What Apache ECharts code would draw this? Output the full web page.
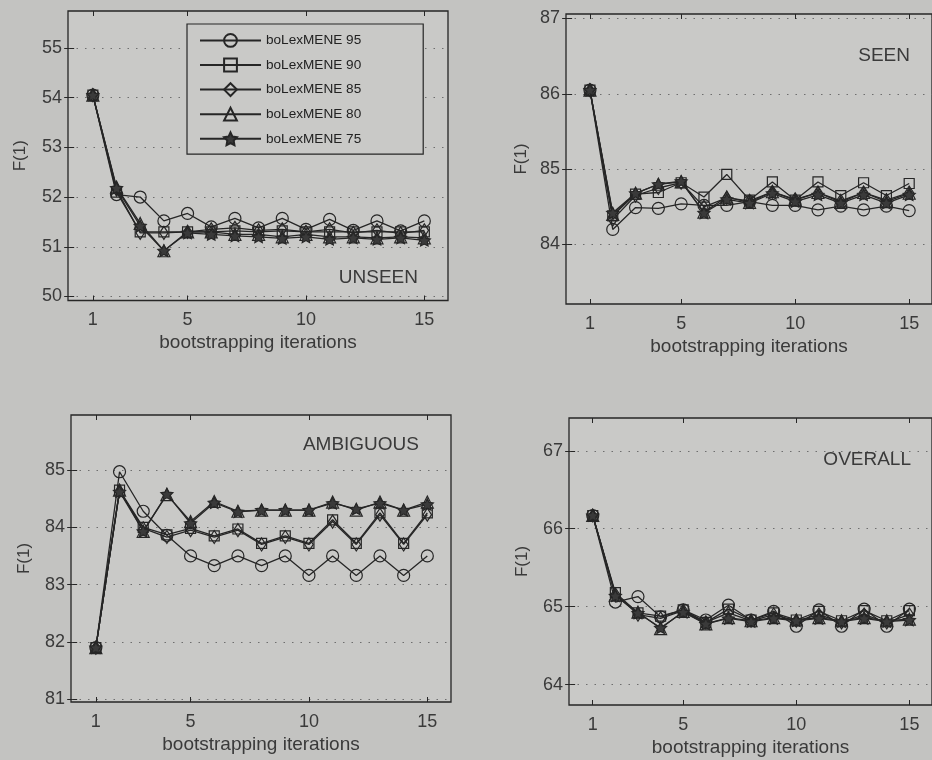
<!DOCTYPE html>
<html>
<head>
<meta charset="utf-8">
<script src="https://cdn.jsdelivr.net/npm/echarts@6/dist/echarts.min.js"></script>
<style>
  html, body { margin: 0; padding: 0; background: #c3c3c1; }
  #chart { width: 932px; height: 760px; }
</style>
</head>
<body>
<div id="chart"></div>
<script>
// Bootstrapping iterations on the x axis
const iterations = [1, 2, 3, 4, 5, 6, 7, 8, 9, 10, 11, 12, 13, 14, 15];
const xTicks = [1, 5, 10, 15];
const seriesNames = ['boLexMENE 95', 'boLexMENE 90', 'boLexMENE 85', 'boLexMENE 80', 'boLexMENE 75'];

// UNSEEN
const unseenTicks = [50, 51, 52, 53, 54, 55];
const unseen95 = [54.05, 52.05, 52.0, 51.52, 51.67, 51.4, 51.57, 51.38, 51.57, 51.35, 51.55, 51.33, 51.52, 51.32, 51.52];
const unseen90 = [54.05, 52.1, 51.3, 51.3, 51.3, 51.3, 51.32, 51.3, 51.32, 51.3, 51.3, 51.3, 51.3, 51.3, 51.3];
const unseen85 = [54.05, 52.15, 51.28, 51.28, 51.3, 51.35, 51.38, 51.33, 51.35, 51.3, 51.35, 51.28, 51.33, 51.27, 51.33];
const unseen80 = [54.05, 52.2, 51.47, 50.92, 51.3, 51.3, 51.25, 51.25, 51.2, 51.25, 51.2, 51.2, 51.18, 51.2, 51.18];
const unseen75 = [54.05, 52.18, 51.42, 50.92, 51.28, 51.25, 51.22, 51.2, 51.17, 51.2, 51.15, 51.18, 51.15, 51.18, 51.13];

// SEEN
const seenTicks = [84, 85, 86, 87];
const seen95 = [86.05, 84.2, 84.49, 84.48, 84.54, 84.52, 84.52, 84.57, 84.52, 84.52, 84.46, 84.51, 84.46, 84.51, 84.45];
const seen90 = [86.05, 84.38, 84.67, 84.69, 84.82, 84.63, 84.93, 84.59, 84.83, 84.59, 84.83, 84.65, 84.82, 84.65, 84.81];
const seen85 = [86.05, 84.33, 84.65, 84.75, 84.82, 84.5, 84.62, 84.58, 84.7, 84.6, 84.69, 84.58, 84.69, 84.59, 84.69];
const seen80 = [86.05, 84.4, 84.68, 84.8, 84.83, 84.43, 84.63, 84.56, 84.7, 84.59, 84.69, 84.56, 84.69, 84.57, 84.68];
const seen75 = [86.05, 84.42, 84.68, 84.8, 84.84, 84.42, 84.6, 84.55, 84.68, 84.57, 84.66, 84.55, 84.66, 84.55, 84.66];

// AMBIGUOUS
const ambiguousTicks = [81, 82, 83, 84, 85];
const ambiguous95 = [81.9, 84.97, 84.28, 83.86, 83.5, 83.33, 83.5, 83.33, 83.5, 83.16, 83.5, 83.16, 83.5, 83.16, 83.5];
const ambiguous90 = [81.9, 84.65, 84.0, 83.87, 83.98, 83.85, 83.97, 83.72, 83.85, 83.72, 84.13, 83.72, 84.25, 83.72, 84.25];
const ambiguous85 = [81.9, 84.63, 83.98, 83.83, 83.95, 83.83, 83.95, 83.7, 83.83, 83.7, 84.1, 83.7, 84.22, 83.7, 84.22];
const ambiguous80 = [81.9, 84.65, 83.93, 84.57, 84.1, 84.45, 84.28, 84.3, 84.3, 84.3, 84.44, 84.3, 84.44, 84.3, 84.44];
const ambiguous75 = [81.9, 84.62, 83.93, 84.58, 84.07, 84.43, 84.27, 84.3, 84.3, 84.3, 84.42, 84.32, 84.42, 84.3, 84.4];

// OVERALL
const overallTicks = [64, 65, 66, 67];
const overall95 = [66.17, 65.06, 65.13, 64.87, 64.96, 64.83, 65.02, 64.83, 64.94, 64.75, 64.96, 64.75, 64.97, 64.75, 64.97];
const overall90 = [66.17, 65.18, 64.92, 64.88, 64.96, 64.8, 64.97, 64.83, 64.92, 64.83, 64.94, 64.82, 64.95, 64.82, 64.95];
const overall85 = [66.17, 65.16, 64.9, 64.85, 64.95, 64.8, 64.92, 64.82, 64.9, 64.82, 64.9, 64.8, 64.9, 64.8, 64.9];
const overall80 = [66.17, 65.15, 64.93, 64.72, 64.94, 64.78, 64.86, 64.82, 64.86, 64.83, 64.86, 64.82, 64.86, 64.82, 64.84];
const overall75 = [66.17, 65.14, 64.92, 64.73, 64.93, 64.78, 64.85, 64.81, 64.85, 64.82, 64.85, 64.81, 64.85, 64.81, 64.83];

const INK = '#262626';
const TEXT = '#3a3a3a';
const PLOT_BG = '#c9c9c7';
const FONT = '"Liberation Sans", Arial, Helvetica, sans-serif';

const STAR = 'path://M0,-10L2.94,-4.05L9.51,-3.09L4.76,1.55L5.88,8.09L0,5L-5.88,8.09L-4.76,1.55L-9.51,-3.09L-2.94,-4.05Z';
const DIAMOND = 'path://M0,-10L6.5,0L0,10L-6.5,0Z';
const markers = [
  { symbol: 'circle', size: 12, fill: 'rgba(0,0,0,0)' },
  { symbol: 'rect', size: 10, fill: 'rgba(0,0,0,0)' },
  { symbol: DIAMOND, size: 13, fill: 'rgba(0,0,0,0)' },
  { symbol: 'triangle', size: 12, fill: 'rgba(0,0,0,0)' },
  { symbol: STAR, size: 12, fill: '#3a3a3a' }
];

// Panel placement (pixel boxes) and axis ranges
const panels = [
  { label: 'UNSEEN', rows: [unseen95, unseen90, unseen85, unseen80, unseen75], yTicks: unseenTicks,
    yMin: 49.92, yMax: 55.74, left: 68, top: 11, width: 380, height: 289.5,
    labelX: 418, labelY: 277.5, xNameGap: 33, yNameGap: 39 },
  { label: 'SEEN', rows: [seen95, seen90, seen85, seen80, seen75], yTicks: seenTicks,
    yMin: 83.21, yMax: 87.06, left: 566, top: 14, width: 373, height: 290,
    labelX: 910, labelY: 56, xNameGap: 33, yNameGap: 36 },
  { label: 'AMBIGUOUS', rows: [ambiguous95, ambiguous90, ambiguous85, ambiguous80, ambiguous75], yTicks: ambiguousTicks,
    yMin: 80.95, yMax: 85.96, left: 71, top: 415, width: 380, height: 287,
    labelX: 419, labelY: 445, xNameGap: 33, yNameGap: 38 },
  { label: 'OVERALL', rows: [overall95, overall90, overall85, overall80, overall75], yTicks: overallTicks,
    yMin: 63.74, yMax: 67.42, left: 569, top: 418, width: 372, height: 287,
    labelX: 911, labelY: 460, xNameGap: 33, yNameGap: 38 }
];

const grid = [], xAxis = [], yAxis = [], series = [], graphic = [];

panels.forEach((p, i) => {
  grid.push({
    left: p.left, top: p.top, width: p.width, height: p.height,
    show: true, backgroundColor: PLOT_BG, borderColor: INK, borderWidth: 1.3,
    containLabel: false
  });
  const tick = { show: true, inside: true, length: 5, lineStyle: { color: INK, width: 1 } };
  // bottom axis with labels
  xAxis.push({
    type: 'value', gridIndex: i, min: -0.05, max: 16,
    name: 'bootstrapping iterations', nameLocation: 'middle', nameGap: p.xNameGap,
    nameTextStyle: { color: TEXT, fontSize: 19, fontFamily: FONT },
    axisLine: { show: false },
    axisTick: Object.assign({ customValues: xTicks }, tick),
    axisLabel: { customValues: xTicks, color: TEXT, fontSize: 18, fontFamily: FONT, margin: 11 },
    splitLine: { show: false }
  });
  // mirrored ticks along the top edge
  xAxis.push({
    type: 'value', gridIndex: i, min: -0.05, max: 16, position: 'top',
    axisLine: { show: false },
    axisTick: Object.assign({ customValues: xTicks }, tick),
    axisLabel: { show: false },
    splitLine: { show: false }
  });
  yAxis.push({
    type: 'value', gridIndex: i, min: p.yMin, max: p.yMax,
    name: 'F(1)', nameLocation: 'middle', nameGap: p.yNameGap,
    nameTextStyle: { color: TEXT, fontSize: 17, fontFamily: FONT },
    axisLine: { show: false },
    axisTick: Object.assign({ customValues: p.yTicks }, tick),
    axisLabel: { customValues: p.yTicks, color: TEXT, fontSize: 18, fontFamily: FONT, margin: 6 },
    splitLine: { show: true, lineStyle: { color: '#6e6e6e', width: 1, type: [1.5, 7] } }
  });
  yAxis.push({
    type: 'value', gridIndex: i, min: p.yMin, max: p.yMax, position: 'right',
    axisLine: { show: false },
    axisTick: Object.assign({ customValues: p.yTicks }, tick),
    axisLabel: { show: false },
    splitLine: { show: false }
  });
  p.rows.forEach((row, k) => {
    const m = markers[k];
    series.push({
      type: 'line', name: seriesNames[k],
      xAxisIndex: i * 2, yAxisIndex: i * 2,
      data: iterations.map((x, j) => [x, row[j]]),
      symbol: m.symbol, symbolSize: m.size, symbolKeepAspect: true,
      showAllSymbol: true,
      lineStyle: { color: INK, width: 1.3 },
      itemStyle: { color: m.fill, borderColor: INK, borderWidth: 1.2 },
      emphasis: { disabled: true },
      animation: false, z: 3 + k
    });
  });
  graphic.push({
    type: 'text', x: p.labelX, y: p.labelY, z: 20,
    style: { text: p.label, fill: TEXT, font: '19px ' + FONT, align: 'right', verticalAlign: 'middle' }
  });
});

const chart = echarts.init(document.getElementById('chart'));
chart.setOption({
  backgroundColor: '#c3c3c1',
  animation: false,
  grid, xAxis, yAxis, series, graphic,
  legend: {
    show: true, orient: 'vertical', left: 187, top: 24,
    data: seriesNames,
    itemWidth: 61, itemHeight: 16, itemGap: 9.8,
    padding: [9, 62, 8, 12],
    backgroundColor: PLOT_BG, borderColor: INK, borderWidth: 1.2,
    textStyle: { color: '#222', fontSize: 13.6, fontFamily: FONT },
    selectedMode: false
  }
});
</script>
</body>
</html>
